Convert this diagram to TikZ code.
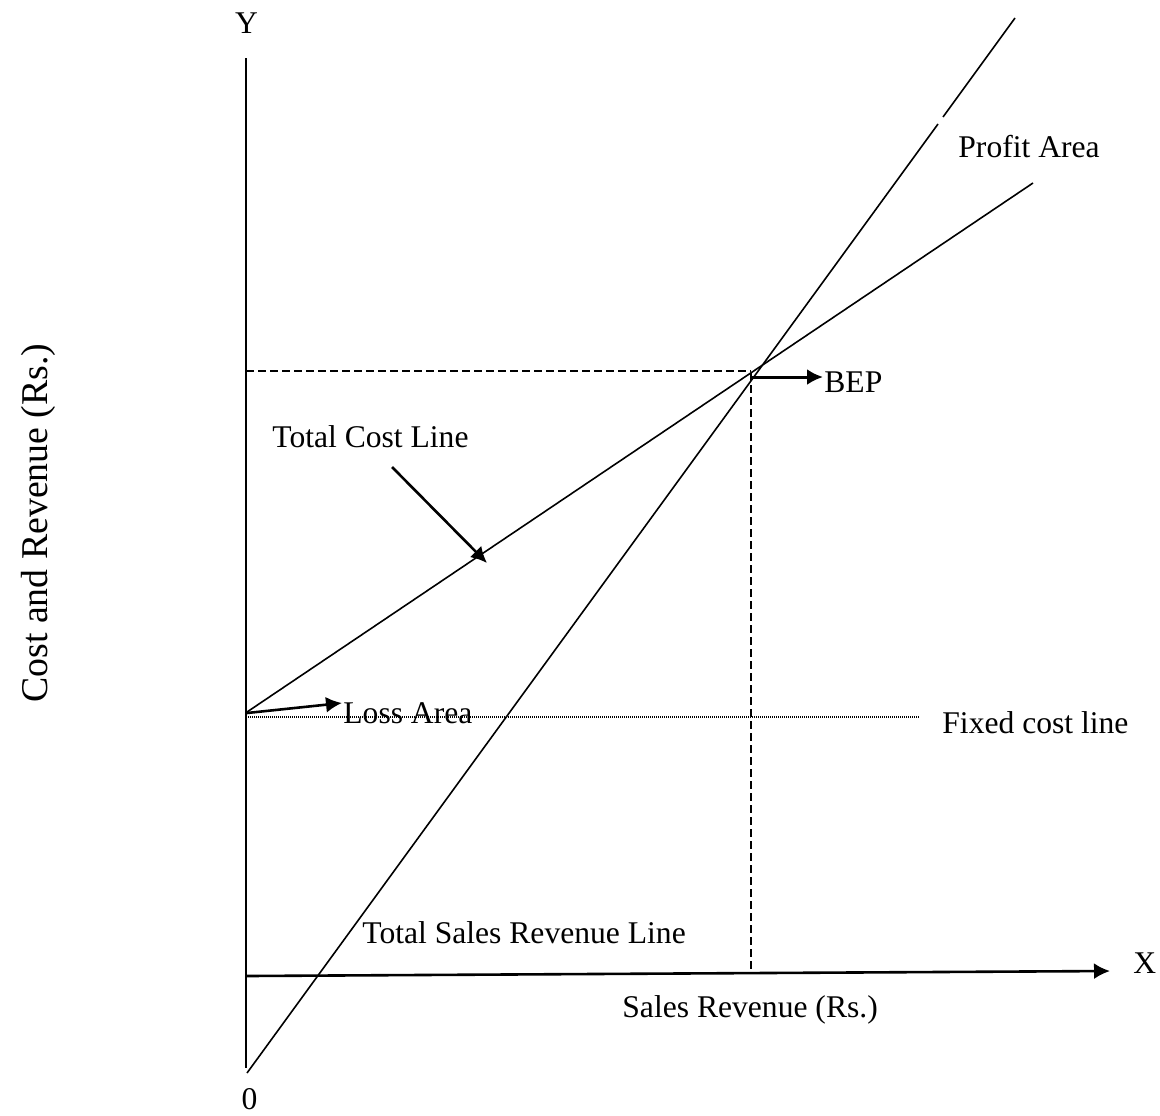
\documentclass[tikz,border=0pt]{standalone}
\usepackage{fontspec}
\setmainfont{Liberation Serif}
\usetikzlibrary{arrows.meta}
\begin{document}
\begin{tikzpicture}[x=0.5pt,y=-0.5pt,
  lbl/.style={inner sep=0pt, font=\fontsize{15.8}{18}\selectfont},
  biglbl/.style={inner sep=0pt, font=\fontsize{18.9}{22}\selectfont},
  axisline/.style={line width=1.3pt},
  thinline/.style={line width=0.8pt},
  guide/.style={line width=0.8pt, dash pattern=on 4pt off 2pt},
  dotline/.style={line width=0.6pt, dash pattern=on 0.5pt off 0.5pt},
  pointer/.style={line width=1.5pt, -{Latex[length=8pt,width=8pt]}}]
\useasboundingbox (0,0) rectangle (1160,1115);
% coordinates
\coordinate (ytop) at (246,58);
\coordinate (ybot) at (246,1068);
\coordinate (xl) at (246,976);
\coordinate (xr) at (1110,971);
\coordinate (r0) at (247,1073);
\coordinate (r1) at (938,124);
\coordinate (r2) at (943,117);
\coordinate (r3) at (1015,18);
\coordinate (c0) at (247,712);
\coordinate (c1) at (1033,183);
\coordinate (hL) at (246,371);
\coordinate (hR) at (751,371);
\coordinate (vT) at (751,373);
\coordinate (vB) at (751,973);
\coordinate (bep0) at (751,377);
\coordinate (bep1) at (823,377);
\coordinate (fL) at (246,717);
\coordinate (fR) at (919,717);
\coordinate (la0) at (247,713);
\coordinate (la1) at (342,703);
\coordinate (tc0) at (392,467);
\coordinate (tc1) at (487,563);
% axes
\draw[axisline] (ytop) -- (ybot);
\draw[axisline, -{Latex[length=8pt,width=8pt]}] (xl) -- (xr);
% lines
\draw[thinline] (r0) -- (r1);
\draw[thinline] (r2) -- (r3);
\draw[thinline] (c0) -- (c1);
\draw[guide] (hL) -- (hR);
\draw[guide] (vT) -- (vB);
\draw[dotline] (fL) -- (fR);
% pointers
\draw[pointer] (bep0) -- (bep1);
\draw[pointer, line width=1.3pt] (la0) -- (la1);
\draw[pointer, line width=1.3pt] (tc0) -- (tc1);
% labels
\node[lbl, anchor=base] (ylab) at (246.5,33) {Y};
\node[lbl, anchor=base west] (xlab) at (1133,973) {X};
\node[lbl, anchor=base] (olab) at (249.5,1109) {0};
\node[lbl, anchor=base west] (profit) at (958,157) {Profit Area};
\node[lbl, anchor=base west] (bep) at (824,392) {BEP};
\node[lbl, anchor=base west] (tcl) at (272,447) {Total Cost Line};
\node[lbl, anchor=base west] (loss) at (343,723) {Loss Area};
\node[lbl, anchor=base west] (fixed) at (942,733) {Fixed cost line};
\node[lbl, anchor=base west] (tsr) at (362,943) {Total Sales Revenue Line};
\node[lbl, anchor=base west] (sr) at (622,1017) {Sales Revenue (Rs.)};
\node[biglbl, anchor=base west, rotate=90] (cr) at (47,703) {Cost and Revenue (Rs.)};
\end{tikzpicture}
\end{document}
